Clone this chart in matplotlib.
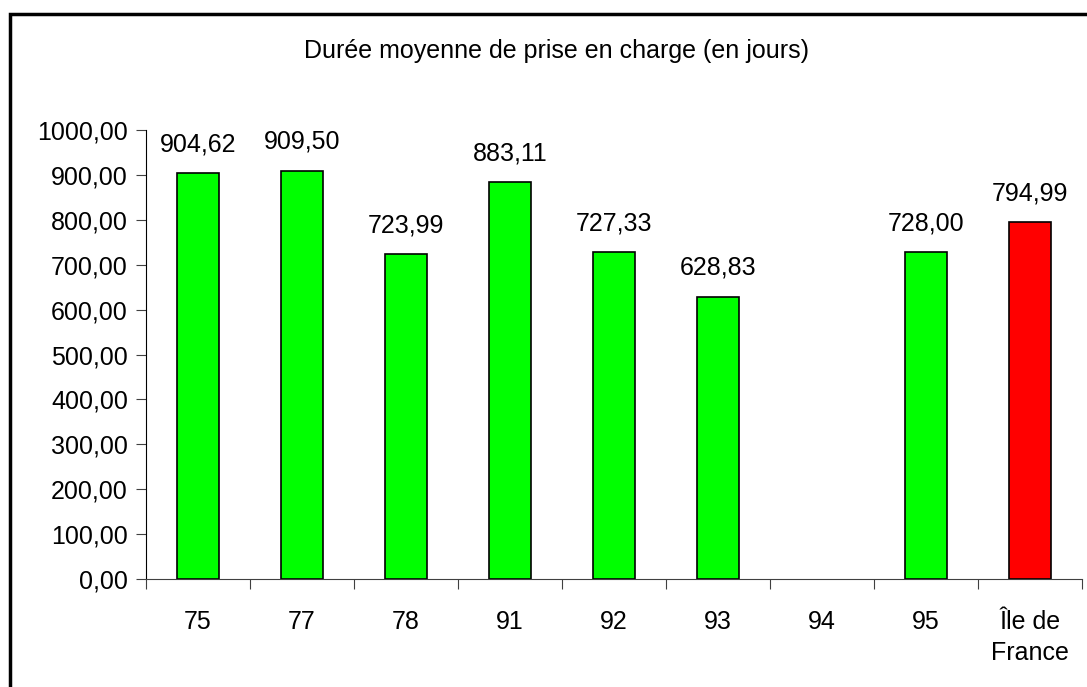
import numpy as np
import matplotlib.pyplot as plt
from matplotlib.patches import Rectangle

plt.rcParams['font.family'] = ['Liberation Sans', 'DejaVu Sans']

# données
departements = ['75', '77', '78', '91', '92', '93', '94', '95', 'Île de\nFrance']
durees = [904.62, 909.50, 723.99, 883.11, 727.33, 628.83, np.nan, 728.00, 794.99]
couleurs = ['#00ff00'] * 8 + ['#ff0000']
titre = 'Durée moyenne de prise en charge (en jours)'

W, H = 1087, 687
fig = plt.figure(figsize=(W / 100, H / 100), dpi=100)

# cadre extérieur
fig.patches.append(Rectangle((10 / W, -0.05), 1.2, 1 - 14 / H + 0.05,
                             transform=fig.transFigure, fill=False,
                             edgecolor='black', linewidth=2.5))

ax = fig.add_axes([146 / W, 108 / H, 936 / W, 449 / H])
x = np.arange(len(departements))
ok = ~np.isnan(durees)
ax.bar(x[ok], np.array(durees)[ok], width=0.4,
       color=[c for c, o in zip(couleurs, ok) if o],
       edgecolor='black', linewidth=1.2, zorder=2)

for xi, v in zip(x, durees):
    if np.isnan(v):
        continue
    ax.annotate(f'{v:.2f}'.replace('.', ','), (xi, v), xytext=(0, 12),
                textcoords='offset points', ha='center', va='bottom', fontsize=18)

ax.set_xlim(-0.5, len(departements) - 0.5)
ax.set_ylim(0, 1000)
ax.set_yticks(np.arange(0, 1001, 100))
ax.set_yticklabels([f'{v:.2f}'.replace('.', ',') for v in np.arange(0, 1001, 100)],
                   fontsize=18)
ax.set_xticks(np.arange(-0.5, len(departements), 1))
ax.set_xticklabels([])
ax.set_xticks(x, minor=True)
ax.set_xticklabels(departements, minor=True, fontsize=18, linespacing=1.4)
ax.tick_params(axis='x', which='minor', length=0, pad=22)
ax.tick_params(axis='x', which='major', length=7, direction='out', color='#404040')
ax.tick_params(axis='y', length=7, direction='out', color='#404040', pad=6)

for s in ['top', 'right']:
    ax.spines[s].set_visible(False)
ax.spines['left'].set_color('black')
ax.spines['bottom'].set_color('#404040')

fig.text(557 / W, 1 - 51 / H, titre, ha='center', va='center', fontsize=18)

fig.savefig('out.png', dpi=100)
